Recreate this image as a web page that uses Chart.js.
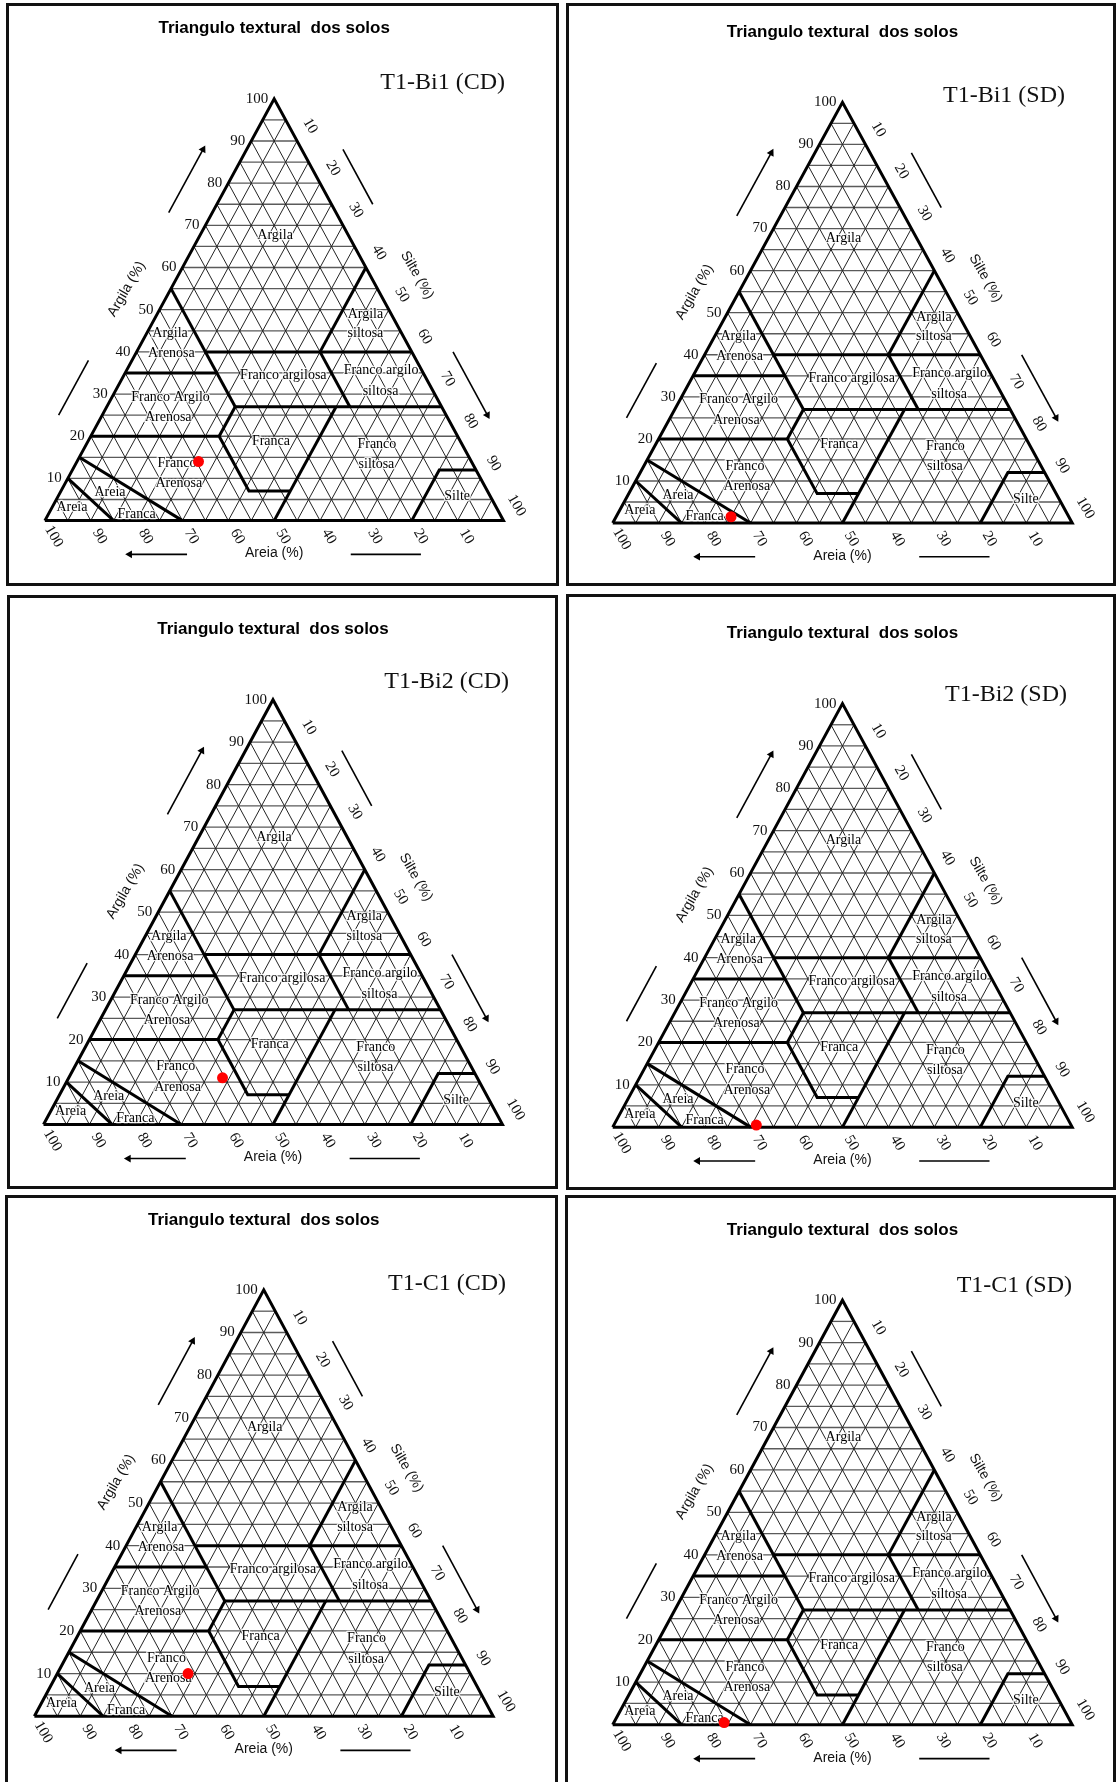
<!DOCTYPE html>
<html>
<head>
<meta charset="utf-8">
<script src="https://cdn.jsdelivr.net/npm/chart.js@4.4.0/dist/chart.umd.min.js"></script>
<style>
  html, body { margin: 0; padding: 0; background: #fff; }
  body { width: 1116px; height: 1782px; position: relative; overflow: hidden; }
  .panel { position: absolute; border: 3px solid #111; box-sizing: border-box; background: #fff; }
  .panel canvas { position: absolute; left: 0; top: 0; }
</style>
</head>
<body>
<script>
const amostras = ['T1-Bi1 (CD)', 'T1-Bi1 (SD)', 'T1-Bi2 (CD)', 'T1-Bi2 (SD)', 'T1-C1 (CD)', 'T1-C1 (SD)'];
const areia  = [59.5, 73.5, 55.5, 68.5, 61.5, 75.5];
const silte  = [26.5, 25.0, 33.5, 31.0, 28.5, 24.0];
const argila = [14.0, 1.5, 11.0, 0.5, 10.0, 0.5];

// Tick labels of the three sides
const ticksArgila = [10, 20, 30, 40, 50, 60, 70, 80, 90, 100];
const ticksAreia  = [100, 90, 80, 70, 60, 50, 40, 30, 20, 10];
const ticksSilte  = [10, 20, 30, 40, 50, 60, 70, 80, 90, 100];

// Texture class limits, vertices as [areia, argila] (silte = rest)
const limites = [
  [[90, 10], [85, 0]],
  [[85, 15], [70, 0]],
  [[80, 20], [52, 20], [52, 7], [43, 7]],
  [[50, 0], [23, 27]],
  [[52, 20], [45, 27]],
  [[45, 27], [0, 27]],
  [[65, 35], [45, 35]],
  [[45, 55], [45, 27]],
  [[45, 40], [0, 40]],
  [[20, 40], [0, 60]],
  [[20, 40], [20, 27]],
  [[20, 0], [8, 12], [0, 12]]
];

// Class names (anchor in plot units: x across the base, y = argila)
const classes = [
  ['Argila', 50.2, 67.7],
  ['Argila', 27.3, 44.3], ['Arenosa', 27.6, 39.6],
  ['Argila', 69.9, 48.9], ['siltosa', 69.9, 44.3],
  ['Franco argilosa', 52, 34.5],
  ['Franco argilo', 73.3, 35.6], ['siltosa', 73.2, 30.6],
  ['Franco Argilo', 27.4, 29.3], ['Arenosa', 26.9, 24.5],
  ['Franca', 49.3, 18.8],
  ['Franco', 72.4, 18.2], ['siltosa', 72.3, 13.4],
  ['Franco', 28.8, 13.6], ['Arenosa', 29.2, 8.8],
  ['Silte', 89.9, 5.7],
  ['Areia', 5.9, 3.1],
  ['Areia', 14.2, 6.6], ['Franca', 20, 1.5]
];

// Page layout of the six panels: box [left, top, w, h], triangle [x0, x1, base y, apex y], sample name [right x, y]
const paineis = [
  { box: [6, 3, 553, 583],    tri: [40, 508, 525, 95],          nome: [505, 83] },
  { box: [566, 3, 550, 583],  tri: [608, 1077, 527.5, 98.6],    nome: [1065, 96] },
  { box: [7, 595, 551, 594],  tri: [38.6, 507, 1129, 696],      nome: [509, 682] },
  { box: [566, 594, 550, 596], tri: [608, 1077, 1131.6, 700],   nome: [1067, 695] },
  { box: [5, 1195, 553, 600], tri: [29.3, 497.5, 1720.4, 1286], nome: [506, 1284] },
  { box: [565, 1195, 551, 600], tri: [608, 1077, 1729, 1296.5], nome: [1072, 1286] }
];

const SERIF = "'Liberation Serif', 'Times New Roman', serif";
const SANS = "'Liberation Sans', Arial, sans-serif";

// areia/argila -> plot coordinates
function xy(a, c) {
  return { x: 100 - a - c / 2, y: c };
}

function linha(pts, cor, larg, ordem) {
  return {
    data: pts, showLine: true, borderColor: cor, borderWidth: larg,
    pointRadius: 0, order: ordem, clip: false, tension: 0
  };
}

function seta(pts, rot) {
  return {
    data: pts, showLine: true, borderColor: '#000', borderWidth: 1.6,
    pointRadius: [0, 4.5], pointStyle: 'triangle', pointRotation: rot,
    pointBackgroundColor: '#000', pointBorderWidth: 0, order: 1, clip: false
  };
}

function criarPainel(i) {
  const p = paineis[i];
  const [bl, bt, bw, bh] = p.box;
  const div = document.createElement('div');
  div.className = 'panel';
  div.style.left = bl + 'px';
  div.style.top = bt + 'px';
  div.style.width = bw + 'px';
  div.style.height = bh + 'px';
  document.body.appendChild(div);

  const W = bw - 6, H = bh - 6, ox = bl + 3, oy = bt + 3;
  const cv = document.createElement('canvas');
  cv.width = W;
  cv.height = H;
  cv.style.width = W + 'px';
  cv.style.height = H + 'px';
  div.appendChild(cv);

  const [x0, x1, yb, ya] = p.tri;
  const a = x0 - ox, c = yb - oy;
  const kx = (x1 - x0) / 100, ky = (yb - ya) / 100;

  const datasets = [];

  // sample point
  datasets.push({
    papel: 'ponto',
    data: [{ x: silte[i] + argila[i] / 2, y: argila[i] }],
    pointRadius: 5.5, pointBackgroundColor: '#ff0000', pointBorderWidth: 0,
    order: 0, clip: false
  });

  // grid, every 5%
  for (let k = 5; k < 100; k += 5) {
    datasets.push(linha([xy(100 - k, k), xy(0, k)], '#5a5a5a', 1.3, 5));
    datasets.push(linha([xy(k, 100 - k), xy(k, 0)], '#222', 1, 4));
    datasets.push(linha([xy(100 - k, 0), xy(0, 100 - k)], '#222', 1, 4));
  }

  // class limits
  limites.forEach(l => {
    datasets.push(linha(l.map(v => xy(v[0], v[1])), '#000', 3, 2));
  });

  // outline
  datasets.push(linha([xy(100, 0), xy(0, 0), xy(0, 100), xy(100, 0)], '#000', 3, 2));

  // side arrows and bars
  const ang = Math.atan2(kx * 50, ky * 100) * 180 / Math.PI;
  datasets.push(seta([{ x: 27, y: 73 }, { x: 34.5, y: 88 }], ang));
  datasets.push(linha([{ x: 3, y: 25 }, { x: 9.5, y: 38 }], '#000', 1.6, 1));
  datasets.push(linha([{ x: 65, y: 88 }, { x: 71.5, y: 75 }], '#000', 1.6, 1));
  datasets.push(seta([{ x: 89, y: 40 }, { x: 96.5, y: 25 }], 180 - ang));
  datasets.push(seta([{ x: 31, y: -8 }, { x: 18.5, y: -8 }], 270));
  datasets.push(linha([{ x: 66.7, y: -8 }, { x: 82, y: -8 }], '#000', 1.6, 1));

  const textos = {
    id: 'textos',
    beforeDatasetDraw(chart, args) {
      if (chart.data.datasets[args.index].papel !== 'ponto') return;
      const ctx = chart.ctx;
      const sx = chart.scales.x, sy = chart.scales.y;
      ctx.save();
      ctx.font = '14px ' + SERIF;
      ctx.textAlign = 'center';
      ctx.textBaseline = 'middle';
      ctx.lineJoin = 'round';
      ctx.lineWidth = 2.5;
      ctx.strokeStyle = 'rgba(255,255,255,0.85)';
      ctx.fillStyle = '#000';
      classes.forEach(([t, X, Y]) => {
        const x = sx.getPixelForValue(X), y = sy.getPixelForValue(Y);
        ctx.strokeText(t, x, y);
        ctx.fillText(t, x, y);
      });
      ctx.restore();
    },
    afterDatasetsDraw(chart) {
      const ctx = chart.ctx;
      const sx = chart.scales.x, sy = chart.scales.y;
      const px = v => sx.getPixelForValue(v), py = v => sy.getPixelForValue(v);
      ctx.save();
      ctx.fillStyle = '#111';

      // Argila ticks (left)
      ctx.font = '15px ' + SERIF;
      ctx.textAlign = 'right';
      ctx.textBaseline = 'middle';
      ticksArgila.forEach(v => ctx.fillText(String(v), px(v / 2) - 6, py(v)));

      const girado = (t, x, y, graus) => {
        ctx.save();
        ctx.translate(x, y);
        ctx.rotate(graus * Math.PI / 180);
        ctx.fillText(t, 0, 0);
        ctx.restore();
      };
      ctx.textAlign = 'center';
      // Areia ticks (bottom)
      ticksAreia.forEach(v => girado(String(v), px(100 - v) + 9, py(0) + 16, 60));
      // Silte ticks (right)
      ticksSilte.forEach(v => girado(String(v), px(50 + v / 2) + 13, py(100 - v) - 15, 60));

      // axis titles
      ctx.font = '14px ' + SANS;
      girado('Argila (%)', px(27.4) - 44, py(54.9), -60);
      girado('Silte (%)', px(70.9) + 47, py(58.2), 60);
      ctx.fillText('Areia (%)', px(50), py(0) + 33);

      // chart title
      ctx.font = 'bold 17px ' + SANS;
      ctx.fillStyle = '#000';
      ctx.fillText('Triangulo textural  dos solos', px(50), py(100) - 70);

      // sample name
      ctx.font = '24px ' + SERIF;
      ctx.textAlign = 'right';
      ctx.fillStyle = '#111';
      ctx.fillText(amostras[i], p.nome[0] - ox, p.nome[1] - oy);
      ctx.restore();
    }
  };

  new Chart(cv, {
    type: 'scatter',
    data: { datasets },
    options: {
      responsive: false,
      animation: false,
      devicePixelRatio: 1,
      events: [],
      layout: { padding: 0 },
      plugins: { legend: { display: false }, tooltip: { enabled: false } },
      scales: {
        x: { type: 'linear', display: false, min: -a / kx, max: (W - a) / kx },
        y: { type: 'linear', display: false, min: -(H - c) / ky, max: c / ky }
      }
    },
    plugins: [textos]
  });
}

for (let i = 0; i < paineis.length; i++) criarPainel(i);
</script>
</body>
</html>
